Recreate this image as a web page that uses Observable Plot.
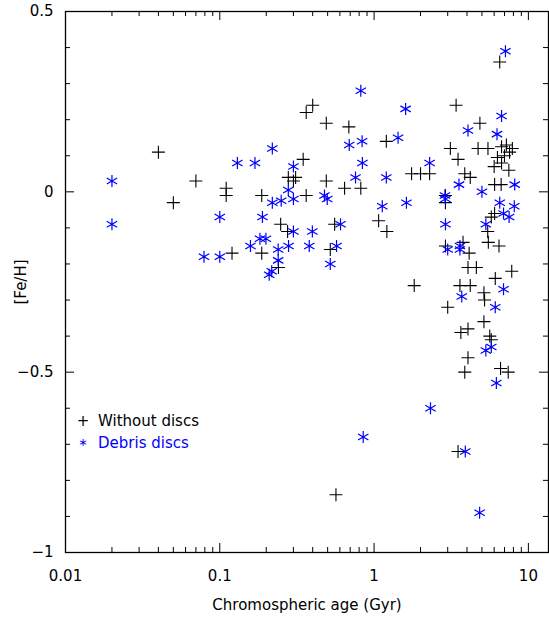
<!DOCTYPE html>
<html>
<head>
<meta charset="utf-8">
<script src="https://cdn.jsdelivr.net/npm/d3@7"></script>
<script src="https://cdn.jsdelivr.net/npm/@observablehq/plot@0.6"></script>
<style>
  html, body { margin: 0; padding: 0; background: #fff; }
  #wrap { position: relative; width: 549px; height: 618px; }
  .legend { position: absolute; left: 76px; top: 410px; font-family: "DejaVu Sans", sans-serif; font-size: 15px; line-height: 22px; }
  .legend .row { display: flex; align-items: center; height: 22px; }
  .legend .mk { display: inline-block; width: 14px; text-align: center; margin-right: 8px; }
  .legend .small { font-size: 11px; }
  .legend .nodisc { color: #000; }
  .legend .disc { color: #0000ff; }
</style>
</head>
<body>
<div id="wrap"></div>
<script>
// ---- Data: stars without discs (black plus) ----
const ageNoDisc = [0.04, 0.05, 0.07, 0.11, 0.11, 0.12, 0.187, 0.187, 0.24, 0.248,
  0.275, 0.278, 0.31, 0.30, 0.347, 0.363, 0.40, 0.363, 0.49, 0.49,
  0.52, 0.555, 0.566, 0.644, 0.686, 0.82, 1.07, 1.20, 1.21, 1.75,
  2.0, 2.29, 1.82, 2.9, 2.9, 2.9, 3.0, 3.12, 3.4, 3.5,
  3.5, 3.6, 3.65, 3.77, 3.87, 3.87, 4.06, 4.06, 4.06, 4.13,
  4.2, 4.2, 4.6, 4.72, 4.85, 5.15, 5.2, 5.15, 5.47, 5.45,
  5.5, 5.62, 5.75, 5.75, 6.04, 6.04, 6.1, 6.45, 6.6, 6.52,
  6.66, 7.4, 7.8, 7.87, 7.2, 6.7, 7.55, 7.0, 6.3, 6.7, 6.0, 7.47];
const fehNoDisc = [0.11, -0.03, 0.03, 0.01, -0.01, -0.17, -0.01, -0.17, -0.21, -0.09,
  -0.11, 0.04, 0.04, 0.03, 0.09, 0.22, 0.24, -0.01, 0.19, 0.03,
  -0.16, -0.09, -0.84, 0.01, 0.18, 0.01, -0.08, 0.14, -0.11, 0.05,
  0.05, 0.05, -0.26, -0.01, -0.03, -0.15, -0.32, 0.12, 0.24, 0.09,
  -0.72, -0.26, -0.39, -0.14, 0.05, -0.50, -0.38, -0.21, -0.46, -0.17,
  0.04, -0.26, -0.21, 0.12, 0.19, -0.28, -0.30, -0.36, 0.12, -0.11,
  -0.14, -0.40, -0.41, -0.07, 0.02, -0.06, -0.24, -0.15, -0.49, 0.36,
  0.02, -0.50, -0.22, 0.12, 0.13, 0.125, 0.11, 0.10, 0.095, 0.08, 0.07, 0.06];

// ---- Data: stars with debris discs (blue asterisk) ----
const ageDisc = [0.02, 0.02, 0.079, 0.10, 0.10, 0.13, 0.158, 0.169, 0.182, 0.189,
  0.199, 0.209, 0.217, 0.219, 0.219, 0.239, 0.239, 0.25, 0.278, 0.279,
  0.30, 0.30, 0.30, 0.38, 0.398, 0.477, 0.497, 0.571, 0.52, 0.606,
  0.69, 0.758, 0.82, 0.836, 0.84, 0.85, 1.13, 1.20, 1.43, 1.60,
  1.62, 2.29, 2.32, 2.88, 2.9, 2.9, 3.0, 3.55, 3.6, 3.6,
  3.7, 3.9, 4.06, 4.83, 5.0, 5.3, 5.3, 5.75, 6.1, 6.2,
  6.26, 6.52, 6.7, 6.9, 6.9, 7.1, 7.5, 8.1, 8.15];
const fehDisc = [0.03, -0.09, -0.18, -0.07, -0.18, 0.08, -0.15, 0.08, -0.13, -0.07,
  -0.13, -0.23, -0.22, 0.12, -0.03, -0.16, -0.19, -0.025, 0.005, -0.15,
  0.07, -0.02, -0.11, -0.15, -0.11, -0.01, -0.02, -0.15, -0.20, -0.09,
  0.13, 0.04, 0.28, 0.14, 0.08, -0.68, -0.04, 0.04, 0.15, 0.23,
  -0.03, 0.08, -0.60, -0.01, -0.02, -0.09, -0.16, 0.02, -0.15, -0.16,
  -0.29, -0.72, 0.17, -0.89, 0.0, -0.09, -0.44, -0.43, -0.32, -0.53,
  0.16, -0.03, 0.21, -0.06, -0.27, 0.39, -0.07, -0.04, 0.02];

// ---- Axis ticks & labels ----
const xMajorTicks = [0.01, 0.1, 1, 10];
const xTickLabels = ["0.01", "0.1", "1", "10"];
const xMinorTicks = [0.02, 0.03, 0.04, 0.05, 0.06, 0.07, 0.08, 0.09,
  0.2, 0.3, 0.4, 0.5, 0.6, 0.7, 0.8, 0.9,
  2, 3, 4, 5, 6, 7, 8, 9];
const yMajorTicks = [-1, -0.5, 0, 0.5];
const yTickLabels = ["\u22121", "\u22120.5", "0", "0.5"];
const yMinorTicks = [-0.9, -0.8, -0.7, -0.6, -0.4, -0.3, -0.2, -0.1, 0.1, 0.2, 0.3, 0.4];

const xLabel = "Chromospheric age (Gyr)";
const yLabel = "[Fe/H]";
const legendLabels = ["Without discs", "Debris discs"];

const noDisc = ageNoDisc.map((a, i) => ({age: a, feh: fehNoDisc[i]}));
const disc = ageDisc.map((a, i) => ({age: a, feh: fehDisc[i]}));

// Custom stroke symbols (PGPLOT-like)
const plusSymbol = {
  draw(ctx, size) {
    const r = Math.sqrt(size / Math.PI);
    ctx.moveTo(-r, 0); ctx.lineTo(r, 0);
    ctx.moveTo(0, -r); ctx.lineTo(0, r);
  }
};
const asteriskSymbol = {
  draw(ctx, size) {
    const r = Math.sqrt(size / Math.PI);
    const c = Math.cos(Math.PI / 6) * r, s = Math.sin(Math.PI / 6) * r;
    ctx.moveTo(0, -r); ctx.lineTo(0, r);
    ctx.moveTo(-c, -s); ctx.lineTo(c, s);
    ctx.moveTo(-c, s); ctx.lineTo(c, -s);
  }
};

const W = 549, H = 618, ML = 65, MR = 1, MT = 11, MB = 66;
const FH = H - MT - MB, FW = W - ML - MR;
const majorLen = 9, minorLen = 5;

const chart = Plot.plot({
  width: W, height: H,
  marginLeft: ML, marginRight: MR, marginTop: MT, marginBottom: MB,
  style: {fontFamily: "DejaVu Sans, sans-serif", fontSize: "15px", color: "#000", background: "#fff", overflow: "visible"},
  x: {type: "log", domain: [0.01, 13.5]},
  y: {domain: [-1, 0.5]},
  marks: [
    Plot.axisX(xMajorTicks, {anchor: "bottom", tickSize: 0, tickPadding: 18,
      tickFormat: d => xTickLabels[xMajorTicks.indexOf(d)],
      label: xLabel, labelArrow: "none", labelAnchor: "center", labelOffset: 57}),
    Plot.axisY(yMajorTicks, {anchor: "left", tickSize: 0, tickPadding: 12,
      tickFormat: d => yTickLabels[yMajorTicks.indexOf(d)],
      label: yLabel, labelArrow: "none", labelAnchor: "center", labelOffset: 50}),
    // inward ticks on all four sides
    Plot.tickX(xMajorTicks, {x: d => d, insetTop: FH - majorLen, stroke: "#000"}),
    Plot.tickX(xMajorTicks, {x: d => d, insetBottom: FH - majorLen, stroke: "#000"}),
    Plot.tickX(xMinorTicks, {x: d => d, insetTop: FH - minorLen, stroke: "#000"}),
    Plot.tickX(xMinorTicks, {x: d => d, insetBottom: FH - minorLen, stroke: "#000"}),
    Plot.tickY(yMajorTicks, {y: d => d, insetRight: FW - majorLen, stroke: "#000"}),
    Plot.tickY(yMajorTicks, {y: d => d, insetLeft: FW - majorLen, stroke: "#000"}),
    Plot.tickY(yMinorTicks, {y: d => d, insetRight: FW - minorLen, stroke: "#000"}),
    Plot.tickY(yMinorTicks, {y: d => d, insetLeft: FW - minorLen, stroke: "#000"}),
    Plot.frame({stroke: "#000", strokeWidth: 1.3}),
    Plot.dot(noDisc, {x: "age", y: "feh", symbol: plusSymbol, r: 6.5, fill: "none", stroke: "#000", strokeWidth: 1.1}),
    Plot.dot(disc, {x: "age", y: "feh", symbol: asteriskSymbol, r: 6, fill: "none", stroke: "#0000ff", strokeWidth: 1.2})
  ]
});

const wrap = document.getElementById("wrap");
wrap.appendChild(chart);

const legend = document.createElement("div");
legend.className = "legend";
legend.innerHTML =
  `<div class="row nodisc"><span class="mk">+</span><span>${legendLabels[0]}</span></div>` +
  `<div class="row disc"><span class="mk small">\u2217</span><span>${legendLabels[1]}</span></div>`;
wrap.appendChild(legend);
</script>
</body>
</html>
